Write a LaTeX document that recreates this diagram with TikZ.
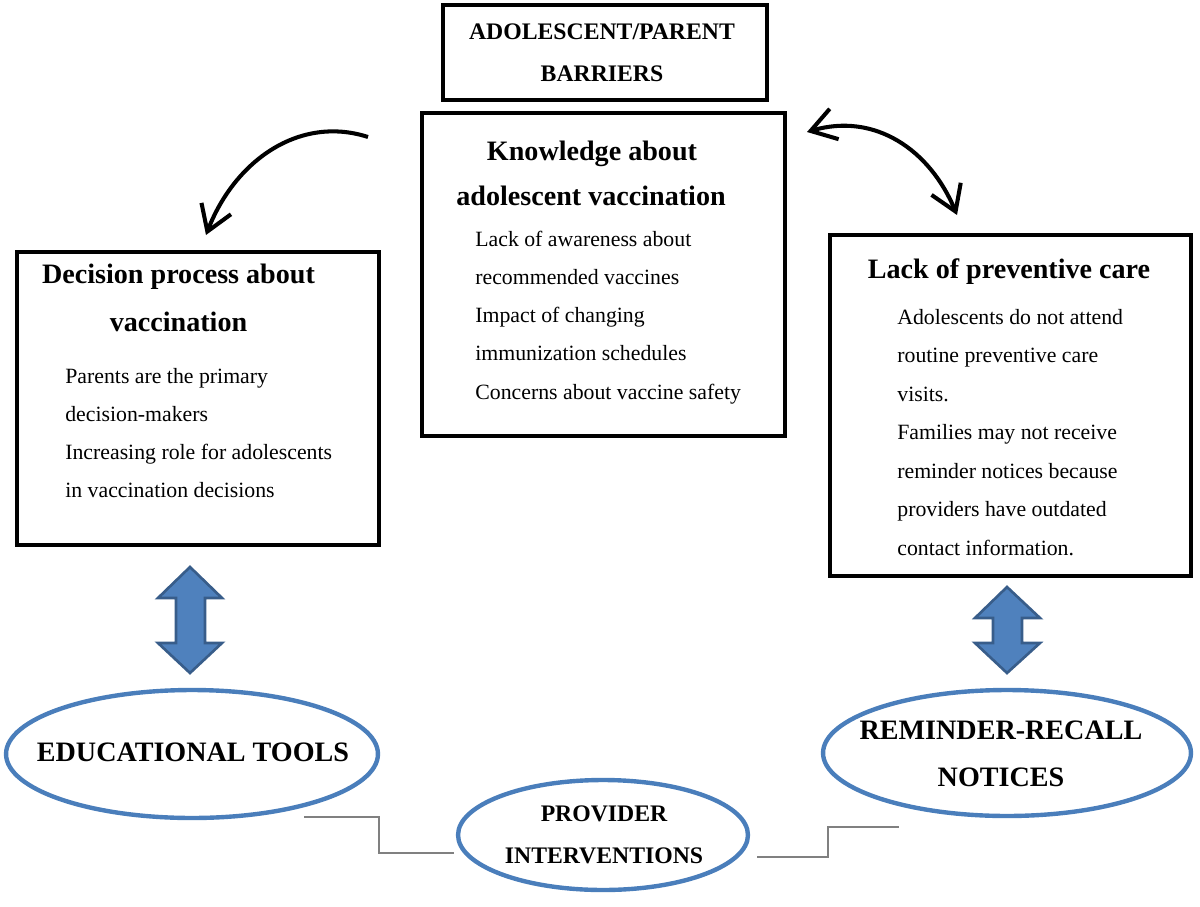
\documentclass[tikz,border=0pt]{standalone}
\usepackage{fontspec}
\setmainfont{Liberation Serif}
\usetikzlibrary{arrows.meta,shapes.geometric}
\definecolor{ellblue}{RGB}{74,126,187}
\definecolor{arrfill}{RGB}{79,129,189}
\definecolor{arrdraw}{RGB}{56,93,138}
\definecolor{conngray}{RGB}{128,128,128}
\tikzset{
  box/.style={draw=black, line width=2pt, inner sep=0pt, outer sep=0pt},
  ell/.style={ellipse, draw=ellblue, line width=2.5pt, inner sep=0pt},
  body/.style={font=\fontsize{12.4}{15}\selectfont, inner sep=0pt, anchor=base west},
  head/.style={font=\fontsize{16}{20}\selectfont\bfseries, inner sep=0pt, anchor=base},
  capsbig/.style={font=\fontsize{16}{27}\selectfont\bfseries, align=center, inner sep=0pt},
  capssmall/.style={font=\fontsize{13.5}{24}\selectfont\bfseries, align=center, inner sep=0pt},
  blockarrow/.style={fill=arrfill, draw=arrdraw, line width=1.5pt, line join=miter},
  curvearrow/.style={line width=2.3pt, -{Straight Barb[length=14pt, width=18pt]}},
  curvearrow2/.style={line width=2.3pt, {Straight Barb[length=14pt, width=18pt]}-{Straight Barb[length=14pt, width=18pt]}},
  conn/.style={draw=conngray, line width=0.8pt}
}
\begin{document}
\begin{tikzpicture}[x=0.02cm, y=-0.02cm]
\useasboundingbox (0,0) rectangle (1200,906);

% title box
\node[box, minimum width=6.48cm, minimum height=1.9cm] (tbox) at (605,52.5) {};
\node[capssmall] (ttext) at (602,53) {ADOLESCENT/PARENT\\BARRIERS};

% knowledge box
\node[box, minimum width=7.26cm, minimum height=6.46cm] (kbox) at (603.5,274.5) {};
\node[head] (kh1) at (592,160) {Knowledge about};
\node[head] (kh2) at (591,205) {adolescent vaccination};
\foreach \txt [count=\i] in {Lack of awareness about, recommended vaccines, Impact of changing, immunization schedules, Concerns about vaccine safety}
  \node[body] (kb\i) at (475,{246+(\i-1)*38.3}) {\txt};

% decision box
\node[box, minimum width=7.24cm, minimum height=5.86cm] (dbox) at (198,398.5) {};
\node[head] (dh1) at (178.5,283) {Decision process about};
\node[head] (dh2) at (178.5,331) {vaccination};
\foreach \txt [count=\i] in {Parents are the primary, decision-makers, Increasing role for adolescents, in vaccination decisions}
  \node[body] (db\i) at (65,{383+(\i-1)*38.3}) {\txt};

% lack of preventive care box
\node[box, minimum width=7.22cm, minimum height=6.82cm] (lbox) at (1010.5,405.5) {};
\node[head] (lh1) at (1009,278) {Lack of preventive care};
\foreach \txt [count=\i] in {Adolescents do not attend, routine preventive care, visits., Families may not receive, reminder notices because, providers have outdated, contact information.}
  \node[body] (lb\i) at (897,{324+(\i-1)*38.5}) {\txt};

% curved arrows
\coordinate (la0) at (368,137);
\coordinate (la1) at (206,235);
\draw[curvearrow] (la0) .. controls (300,115) and (235,160) .. (la1);
\coordinate (ra0) at (807,132);
\coordinate (ra1) at (957,215);
\draw[curvearrow2] (ra0) .. controls (875,112) and (930,150) .. (ra1);

% block double arrows
\draw[blockarrow] (190,567) -- (222,598) -- (205,598) -- (205,643) -- (222,643) -- (190,673)
  -- (158,643) -- (176,643) -- (176,598) -- (158,598) -- cycle;
\draw[blockarrow] (1007,587) -- (1040,618) -- (1022,618) -- (1022,643) -- (1040,643) -- (1007,673)
  -- (975,643) -- (993,643) -- (993,618) -- (975,618) -- cycle;

% ellipses
\node[ell, minimum width=7.44cm, minimum height=2.56cm] (edu) at (192,754) {};
\node[capsbig] (edutext) at (193,752) {EDUCATIONAL TOOLS};
\node[ell, minimum width=7.36cm, minimum height=2.52cm] (rem) at (1007,753) {};
\node[capsbig] (remtext) at (1001,754) {REMINDER-RECALL\\NOTICES};
\node[ell, minimum width=5.8cm, minimum height=2.2cm] (prov) at (603,835) {};
\node[capssmall] (provtext) at (604,835) {PROVIDER\\INTERVENTIONS};

% thin connectors
\coordinate (cl0) at (304,817);
\coordinate (cl1) at (454,853);
\draw[conn] (cl0) -- (379,817) -- (379,853) -- (cl1);
\coordinate (cr0) at (757,857);
\coordinate (cr1) at (899,827);
\draw[conn] (cr0) -- (828,857) -- (828,827) -- (cr1);
\end{tikzpicture}
\end{document}
